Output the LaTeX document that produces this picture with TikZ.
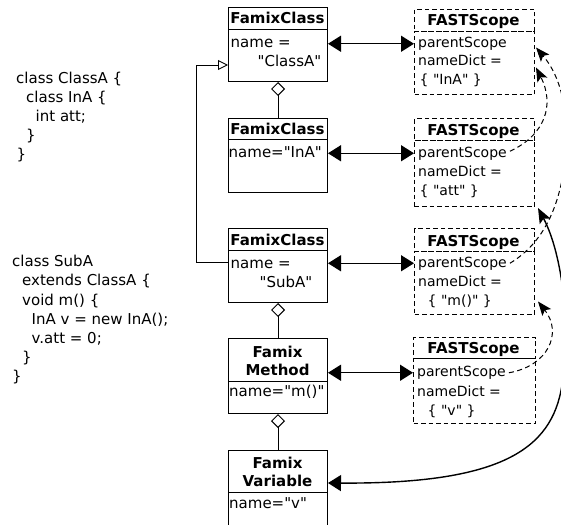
\documentclass[tikz,border=0pt]{standalone}
\usepackage{fontspec}
\setmainfont{DejaVu Sans}[Ligatures=TeXOff]
\usetikzlibrary{arrows.meta,calc}
\begin{document}
\begin{tikzpicture}[x=1pt,y=-1pt,
  fbox/.style={draw,line width=1pt,minimum width=99pt,inner sep=0pt,anchor=north west},
  sbox/.style={draw,line width=1pt,dash pattern=on 4.5pt off 3pt,inner sep=0pt,anchor=north west},
  htxt/.style={font=\fontsize{15}{18}\selectfont\bfseries,inner sep=0pt,anchor=base},
  ftxt/.style={font=\fontsize{15}{18}\selectfont,inner sep=0pt,anchor=base west},
  stxt/.style={font=\fontsize{14}{17}\selectfont,inner sep=0pt,anchor=base west},
  ctxt/.style={font=\fontsize{15}{18}\selectfont,inner sep=0pt,anchor=base west},
  link/.style={line width=1.4pt,{Triangle[length=13pt,width=16pt]}-{Triangle[length=13pt,width=16pt]}},
  agg/.style={line width=1pt,-{Diamond[open,length=14pt,width=14pt]}},
  gen/.style={line width=0.9pt,-{Triangle[open,length=10pt,width=10pt]}},
  scopelink/.style={line width=1pt,dash pattern=on 5pt off 3.5pt,-{Stealth[length=14pt,width=11pt,inset=3pt]}},
  reflink/.style={line width=1.4pt,{Triangle[length=13pt,width=16pt]}-{Stealth[length=15pt,width=12pt,inset=3pt]}}
]
\useasboundingbox (0,0) rectangle (561,524);
\clip (0,0) rectangle (561,524);

% code
\node[ctxt] (c1) at (16,83.5) {class ClassA \{};
\node[ctxt] (c2) at (26,102.5) {class InA \{};
\node[ctxt] (c3) at (35.5,121.5) {int att;};
\node[ctxt] (c4) at (26,140.5) {\}};
\node[ctxt] (c5) at (16.5,159.5) {\}};

\node[ctxt] (c6) at (12,266) {class SubA};
\node[ctxt] (c7) at (22,285.5) {extends ClassA \{};
\node[ctxt] (c8) at (22,305) {void m() \{};
\node[ctxt] (c9) at (31.5,324) {InA v = new InA();};
\node[ctxt] (c10) at (31.5,343) {v.att = 0;};
\node[ctxt] (c11) at (22,362) {\}};
\node[ctxt] (c12) at (12,381) {\}};

% Famix boxes
\node[fbox,minimum height=22pt] (F1h) at (228,7) {};
\node[fbox,minimum height=52pt] (F1b) at (228,29) {};
\node[htxt] (F1t) at (277.5,24) {FamixClass};
\node[ftxt] (F1n) at (230.5,48) {name =};
\node[ftxt] (F1v) at (257.5,67) {"ClassA"};

\node[fbox,minimum height=21pt] (F2h) at (228,118) {};
\node[fbox,minimum height=53pt] (F2b) at (228,139) {};
\node[htxt] (F2t) at (277.5,134.5) {FamixClass};
\node[ftxt] (F2n) at (228.5,157.5) {name="InA"};

\node[fbox,minimum height=22pt] (F3h) at (228,228) {};
\node[fbox,minimum height=52pt] (F3b) at (228,250) {};
\node[htxt] (F3t) at (277.5,245.5) {FamixClass};
\node[ftxt] (F3n) at (230.5,268.5) {name =};
\node[ftxt] (F3v) at (259.5,287) {"SubA"};

\node[fbox,minimum height=43pt] (F4h) at (228,338) {};
\node[fbox,minimum height=32pt] (F4b) at (228,381) {};
\node[htxt] (F4t1) at (277.5,357) {Famix};
\node[htxt] (F4t2) at (277.5,375) {Method};
\node[ftxt] (F4n) at (229,396.5) {name="m()"};

\node[fbox,minimum height=42pt] (F5h) at (228,450) {};
\node[fbox,minimum height=50pt] (F5b) at (228,492) {};
\node[htxt] (F5t1) at (277.5,468) {Famix};
\node[htxt] (F5t2) at (277.5,486.5) {Variable};
\node[ftxt] (F5n) at (229,508) {name="v"};

% FAST scopes
\node[sbox,minimum width=120pt,minimum height=22pt] (S1h) at (414,9) {};
\node[sbox,minimum width=120pt,minimum height=63pt] (S1b) at (414,31) {};
\node[htxt] (S1t) at (473.5,25.5) {FASTScope};
\node[stxt] (p1) at (418,47.5) {parentScope};
\node[stxt] (n1) at (418,66) {nameDict =};
\node[stxt] (d1) at (419.5,84.5) {\{ "InA" \}};

\node[sbox,minimum width=120pt,minimum height=22pt] (S2h) at (414,118) {};
\node[sbox,minimum width=120pt,minimum height=66pt] (S2b) at (414,140) {};
\node[htxt] (S2t) at (473.5,135) {FASTScope};
\node[stxt] (p2) at (418,157) {parentScope};
\node[stxt] (n2) at (418,176) {nameDict =};
\node[stxt] (d2) at (419.5,195) {\{ "att" \}};

\node[sbox,minimum width=120pt,minimum height=23pt] (S3h) at (414,228) {};
\node[sbox,minimum width=120pt,minimum height=63pt] (S3b) at (414,251) {};
\node[htxt] (S3t) at (473.5,246.5) {FASTScope};
\node[stxt] (p3) at (418,267) {parentScope};
\node[stxt] (n3) at (418,286.5) {nameDict =};
\node[stxt] (d3) at (427.5,305.5) {\{ "m()" \}};

\node[sbox,minimum width=122pt,minimum height=21pt] (S4h) at (413,337) {};
\node[sbox,minimum width=122pt,minimum height=65pt] (S4b) at (413,358) {};
\node[htxt] (S4t) at (473.5,353) {FASTScope};
\node[stxt] (p4) at (417,376.5) {parentScope};
\node[stxt] (n4) at (417,396) {nameDict =};
\node[stxt] (d4) at (427.5,415) {\{ "v" \}};

% aggregation
\draw[agg] (F2h.north) -- (F1b.south);
\draw[agg] (F4h.north) -- (F3b.south);
\draw[agg] (F5h.north) -- (F4b.south);

% generalization
\coordinate (gs) at ($(F3b.north west)+(0,12)$);
\coordinate (ge) at ($(F1b.north west)+(0,36)$);
\draw[gen] (gs) -- ++(-32,0) |- (ge);

% famix <-> scope
\draw[link] (F1b.east |- p1.west) -- (S1b.west |- p1.west);
\draw[link] (F2b.east |- p2.west) -- (S2b.west |- p2.west);
\draw[link] (F3b.east |- p3.west) -- (S3b.west |- p3.west);
\draw[link] (F4h.east |- p4.west) -- (S4b.west |- p4.west);

% parent scope links
\coordinate (s2) at ($(p2.east)+(3,-2)$);
\coordinate (s3) at ($(p3.east)+(3,0)$);
\coordinate (s4) at ($(p4.east)+(3,0)$);
\coordinate (t1a) at (S1b.east |- p1.base);
\coordinate (t1b) at (S1b.east |- n1.base);
\coordinate (t3) at (S3b.east |- d3.base);
\draw[scopelink] (s2) .. controls (545,135) and (555,105) .. ($(t1b)+(1,1.5)$);
\draw[scopelink] (s3) .. controls (540,245) and (555,215) .. (562,180) .. controls (570,135) and (568,85) .. ($(t1a)+(1,0)$);
\draw[scopelink] (s4) .. controls (548,366) and (563,333) .. ($(t3)+(3,-4)$);

% variable reference
\coordinate (vs) at ($(F5h.south east)+(0,-10)$);
\coordinate (ve) at ($(S2b.south east)+(3,1)$);
\draw[reflink] (vs) .. controls (500,484) and (552,450) .. (562,385) .. controls (571,330) and (563,255) .. (ve);
\end{tikzpicture}
\end{document}
